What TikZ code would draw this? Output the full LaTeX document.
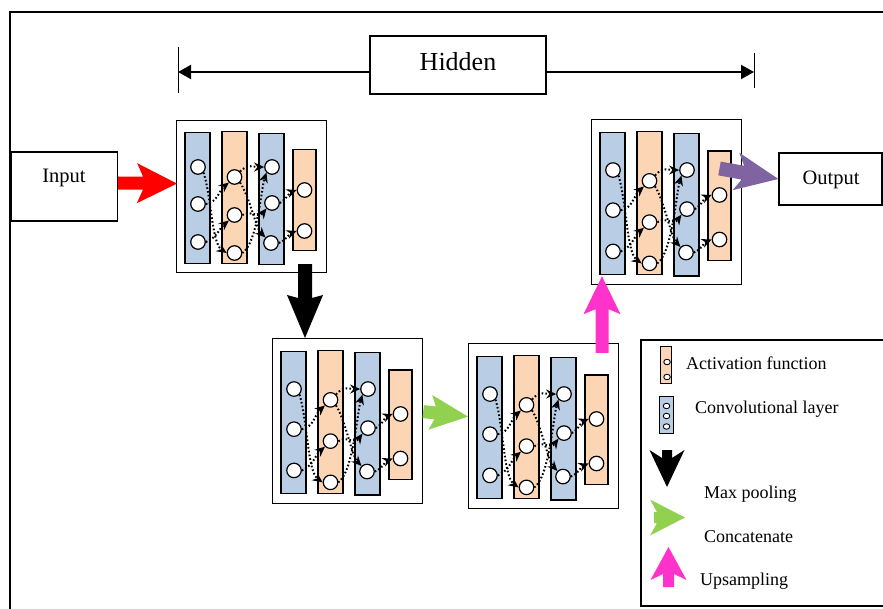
\documentclass[tikz,border=0pt]{standalone}
\usepackage{fontspec}
\setmainfont{Liberation Serif}
\usetikzlibrary{arrows.meta,calc,shapes.geometric}

\definecolor{convblue}{RGB}{185,205,229}
\definecolor{actorange}{RGB}{252,213,181}
\definecolor{poolblack}{RGB}{0,0,0}
\definecolor{inred}{RGB}{255,0,0}
\definecolor{catgreen}{RGB}{146,208,80}
\definecolor{uppink}{RGB}{255,51,204}
\definecolor{outpurple}{RGB}{128,100,162}

\tikzset{
  blockframe/.style={draw, line width=1.2pt, fill=white, inner sep=0pt},
  convcol/.style={draw, fill=convblue, line width=1.2pt, minimum width=25pt, inner sep=0pt},
  actcol/.style={draw, fill=actorange, line width=1.2pt, minimum width=25pt, inner sep=0pt},
  unit/.style={circle, draw, fill=white, line width=1.2pt, minimum size=14.5pt, inner sep=0pt},
  link/.style={line width=2pt, dash pattern=on 1.6pt off 2.2pt, -{Stealth[length=10pt,width=9pt]}},
  labelbox/.style={draw, line width=1.3pt, fill=white, inner sep=0pt},
  legtext/.style={anchor=base west, font=\fontsize{18}{20}\selectfont, inner sep=0pt},
  smallunit/.style={ellipse, draw, fill=white, line width=0.9pt, minimum width=6.5pt, minimum height=5.5pt, inner sep=0pt},
}

% fat block arrow: colour, start, tip, shaft half-width, head half-width, head length, back sweep
\newcommand\fatarrow[7]{%
  \coordinate (fa-s) at #2;
  \coordinate (fa-t) at #3;
  \coordinate (fa-h) at ($(fa-t)!#6!(fa-s)$);
  \coordinate (fa-b) at ($(fa-h)!#7!(fa-s)$);
  \fill[#1] ($(fa-s)!#4!90:(fa-t)$) -- ($(fa-h)!#4!90:(fa-t)$) -- ($(fa-b)!#5!90:(fa-t)$)
     -- (fa-t) -- ($(fa-b)!#5!-90:(fa-t)$) -- ($(fa-h)!#4!-90:(fa-t)$)
     -- ($(fa-s)!#4!-90:(fa-t)$) -- cycle;
}

% one network stage: name, left x, top y, height
\newcommand\cnnblock[4]{%
  \begin{scope}[shift={(#2,#3)}, yscale=#4/152]
    \node[blockframe, anchor=north west, minimum width=150pt, minimum height=#4pt] (#1) at (0,0) {};
    \node[convcol, anchor=north, minimum height={131pt*(#4/152)}] (#1-l1) at (21.5,12) {};
    \node[actcol,  anchor=north, minimum height={132pt*(#4/152)}] (#1-l2) at (58.5,11) {};
    \node[convcol, anchor=north, minimum height={131pt*(#4/152)}] (#1-l3) at (95.5,13) {};
    \node[actcol,  anchor=north, minimum width=23pt, minimum height={101pt*(#4/152)}] (#1-l4) at (128.5,29) {};
    \node[unit] (#1-a1) at (22,47) {};
    \node[unit] (#1-a2) at (22,84) {};
    \node[unit] (#1-a3) at (22,122) {};
    \node[unit] (#1-b1) at (58.5,57) {};
    \node[unit] (#1-b2) at (58.5,95) {};
    \node[unit] (#1-b3) at (58.5,133) {};
    \node[unit] (#1-c1) at (96,47) {};
    \node[unit] (#1-c2) at (96,83) {};
    \node[unit] (#1-c3) at (95,123) {};
    \node[unit] (#1-d1) at (128.5,70) {};
    \node[unit] (#1-d2) at (128.5,111) {};
    \draw[link] (#1-a1.south east) .. controls +(8,25) and +(-15,-10) .. (#1-b3.west);
    \draw[link] (#1-a2.east) .. controls +(12,-2) and +(-10,8) .. (#1-b1.south west);
    \draw[link] (#1-a3.east) .. controls +(12,-5) and +(-10,8) .. (#1-b2.south west);
    \draw[link] (#1-b1.north east) .. controls +(8,-8) and +(-10,0) .. (#1-c1.west);
    \draw[link] (#1-b3.east) .. controls +(15,-10) and +(-5,15) .. (#1-c1.south west);
    \draw[link] (#1-b2.east) .. controls +(10,-5) and +(-8,10) .. (#1-c2.south west);
    \draw[link] (#1-b1.south east) .. controls +(10,15) and +(-10,-10) .. (#1-c3.north west);
    \draw[link] (#1-c2.east) .. controls +(8,-5) and +(-8,3) .. (#1-d1.west);
    \draw[link] (#1-c3.east) .. controls +(8,-3) and +(-8,3) .. (#1-d2.west);
  \end{scope}}

\begin{document}
\begin{tikzpicture}[x=1pt, y=-1pt]
  \useasboundingbox (0,0) rectangle (883,609);

  % outer frame
  \draw[line width=2pt] (10,609) -- (10,12) -- (883,12);

  % span of the hidden stages
  \node[labelbox, minimum width=176pt, minimum height=58pt] (hidden) at (458,65) {};
  \node[anchor=base, font=\fontsize{26}{29}\selectfont, inner sep=0pt] (hiddentxt) at (458,71) {Hidden};
  \coordinate (hl) at (178,72);
  \coordinate (hr) at (754,72);
  \draw[line width=2pt, -{Triangle[length=13pt,width=14pt]}] (hidden.west |- hl) -- (hl);
  \draw[line width=2pt, -{Triangle[length=13pt,width=14pt]}] (hidden.east |- hr) -- (hr);
  \draw[line width=0.9pt] (178,47) -- (178,93);
  \draw[line width=0.9pt] (754,53) -- (754,88);

  % input and output
  \node[labelbox, minimum width=106pt, minimum height=69pt] (inbox) at (64.5,186.5) {};
  \node[anchor=base, font=\fontsize{20.5}{24}\selectfont, inner sep=0pt] (intxt) at (64,183) {Input};
  \node[labelbox, minimum width=103pt, minimum height=52pt] (outbox) at (830.5,179) {};
  \node[anchor=base, font=\fontsize{20.5}{24}\selectfont, inner sep=0pt] (outtxt) at (831,185) {Output};

  % network stages
  \cnnblock{s1}{176}{120}{152}
  \cnnblock{s2}{272}{338}{165}
  \cnnblock{s3}{468}{343}{165}
  \cnnblock{s4}{591}{119}{165}

  % flow between stages
  \fatarrow{inred}{($(inbox.east)+(0,-3.5)$)}{($(s1.west)+(1,-13)$)}{6.5pt}{20pt}{34pt}{6pt}
  \coordinate (poolx) at ($(s1.south west)+(129,0)$);
  \fatarrow{poolblack}{($(poolx)+(0,-9)$)}{(poolx |- s2.north)}{7pt}{18pt}{40pt}{3pt}
  \fatarrow{catgreen}{($(s2.east)+(0,-9.5)$)}{($(s3.west)+(0,-9.5)$)}{6.5pt}{17.5pt}{33pt}{5pt}
  \fatarrow{uppink}{($(s3.north west)+(134,10)$)}{($(s4.south west)+(11,-9)$)}{6.5pt}{18.5pt}{33pt}{5pt}
  \fatarrow{outpurple}{($(s4-l4.north)+(0,18)$)}{(outbox.west)}{7pt}{19pt}{36pt}{7pt}

  % legend
  \draw[line width=1.5pt] (883,340) -- (641,340) -- (641,606) -- (883,606);
  \node[actcol, minimum width=11pt, minimum height=37pt, line width=0.9pt] (legact) at (665.5,364.5) {};
  \node[smallunit] (legact1) at (667,362) {};
  \node[smallunit] (legact2) at (667,377) {};
  \node[legtext] (legacttxt) at (686,369) {Activation function};
  \node[convcol, minimum width=14pt, minimum height=37pt, line width=0.9pt] (legconv) at (666,414.5) {};
  \node[smallunit] (legconv1) at (666.5,406) {};
  \node[smallunit] (legconv2) at (666.5,416) {};
  \node[smallunit] (legconv3) at (666.5,426.5) {};
  \node[legtext] (legconvtxt) at (695,413) {Convolutional layer};
  \fatarrow{poolblack}{(667,450)}{(667,487)}{5pt}{17.5pt}{29pt}{8pt}
  \node[legtext] (legpool) at (704,498) {Max pooling};
  \fatarrow{catgreen}{(654,517.5)}{(685,517.5)}{5.5pt}{18pt}{28pt}{7pt}
  \node[legtext] (legcat) at (704,542) {Concatenate};
  \fatarrow{uppink}{(668.5,587)}{(668.5,547)}{5.5pt}{18pt}{27pt}{6pt}
  \node[legtext] (legup) at (700,585) {Upsampling};
\end{tikzpicture}
\end{document}
